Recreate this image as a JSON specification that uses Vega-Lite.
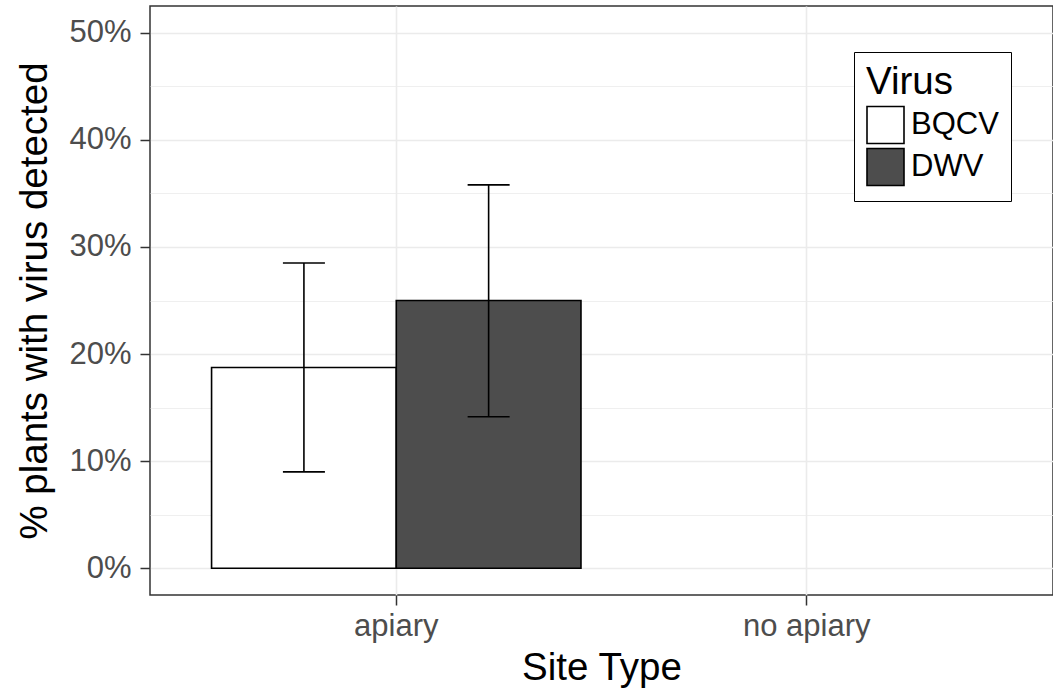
{
  "$schema": "https://vega.github.io/schema/vega-lite/v6.json",
  "autosize": {"type": "none"},
  "padding": {"left": 150, "top": 6, "right": 0, "bottom": 103},
  "width": 903,
  "height": 589,
  "background": "white",
  "config": {
    "font": "Liberation Sans",
    "view": {"stroke": "#333333", "strokeWidth": 1.5},
    "axis": {
      "domain": false,
      "tickColor": "#333333",
      "tickWidth": 1.5,
      "tickSize": 10,
      "labelColor": "#4d4d4d",
      "labelFont": "Liberation Sans",
      "labelFontSize": 31,
      "titleFont": "Liberation Sans",
      "titleFontSize": 38.5,
      "titleFontWeight": "normal",
      "titleColor": "black",
      "gridColor": "#ebebeb",
      "gridWidth": 1.6
    }
  },
  "data": {
    "values": [
      {"site": "apiary", "virus": "BQCV", "pct": 0.1875, "lo": 0.09, "hi": 0.285},
      {"site": "apiary", "virus": "DWV", "pct": 0.25, "lo": 0.1415, "hi": 0.358}
    ]
  },
  "encoding": {
    "x": {
      "field": "site",
      "type": "nominal",
      "scale": {"domain": ["apiary", "no apiary"], "paddingInner": 0.1, "paddingOuter": 0.15},
      "axis": {"title": "Site Type", "labelAngle": 0, "bandPosition": 0.5, "grid": true, "labelPadding": 6, "titlePadding": 8}
    },
    "xOffset": {
      "field": "virus",
      "type": "nominal",
      "scale": {"domain": ["BQCV", "DWV"], "paddingInner": 0, "paddingOuter": 0}
    }
  },
  "layer": [
    {
      "mark": {"type": "bar", "stroke": "black", "strokeWidth": 1.6, "opacity": 1},
      "encoding": {
        "y": {
          "field": "pct",
          "type": "quantitative",
          "scale": {"domain": [-0.025, 0.525], "nice": false, "zero": false},
          "axis": {
            "title": "% plants with virus detected",
            "values": [0, 0.05, 0.1, 0.15, 0.2, 0.25, 0.3, 0.35, 0.4, 0.45, 0.5],
            "labelExpr": "round(datum.value*100) % 10 === 0 ? format(datum.value, '.0%') : ''",
            "tickOpacity": {"condition": {"test": "round(datum.value*100) % 10 !== 0", "value": 0}, "value": 1},
            "gridWidth": {"condition": {"test": "round(datum.value*100) % 10 !== 0", "value": 0.8}, "value": 1.6},
            "grid": true,
            "labelPadding": 9,
            "titlePadding": 14
          }
        },
        "y2": {"datum": 0},
        "fill": {
          "field": "virus",
          "type": "nominal",
          "scale": {"domain": ["BQCV", "DWV"], "range": ["#ffffff", "#4d4d4d"]},
          "legend": {
            "title": "Virus",
            "orient": "none",
            "legendX": 704,
            "legendY": 46,
            "symbolType": "square",
            "symbolSize": 1369,
            "symbolStrokeColor": "black",
            "symbolStrokeWidth": 1.6,
            "symbolOpacity": 1,
            "strokeColor": "black",
            "fillColor": "white",
            "padding": 12,
            "titlePadding": 3,
            "rowPadding": -7,
            "labelOffset": 6,
            "titleFont": "Liberation Sans",
            "titleFontSize": 38.5,
            "titleFontWeight": "normal",
            "titleColor": "black",
            "labelFont": "Liberation Sans",
            "labelFontSize": 31,
            "labelColor": "black"
          }
        }
      }
    },
    {
      "mark": {"type": "rule", "color": "black", "strokeWidth": 1.6},
      "encoding": {
        "y": {"field": "lo", "type": "quantitative"},
        "y2": {"field": "hi"}
      }
    },
    {
      "mark": {"type": "tick", "color": "black", "thickness": 1.6, "size": 42, "opacity": 1},
      "encoding": {
        "y": {"field": "lo", "type": "quantitative"}
      }
    },
    {
      "mark": {"type": "tick", "color": "black", "thickness": 1.6, "size": 42, "opacity": 1},
      "encoding": {
        "y": {"field": "hi", "type": "quantitative"}
      }
    }
  ]
}
